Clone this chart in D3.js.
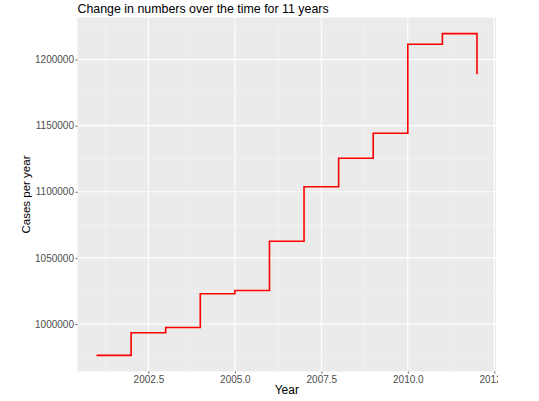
<!DOCTYPE html>
<html lang="en">
<head>
<meta charset="UTF-8">
<title>Change in numbers over the time for 11 years</title>
<script src="https://cdn.jsdelivr.net/npm/d3@7"></script>
<style>
  body { margin: 0; background: #fff; }
  text { font-family: "Liberation Sans", Arial, sans-serif; }
</style>
</head>
<body>
<script>
// data
var years = [2001, 2002, 2003, 2004, 2005, 2006, 2007, 2008, 2009, 2010, 2011, 2012];
var cases = [976300, 993400, 997400, 1022900, 1025400, 1062600,
             1103800, 1125400, 1144200, 1211500, 1219600, 1188900];
var xTicks = [2002.5, 2005.0, 2007.5, 2010.0, 2012.5];
var yTicks = [1000000, 1050000, 1100000, 1150000, 1200000];

var width = 539, height = 401;
var margin = {top: 17.5, right: 43, bottom: 29.5, left: 77.5};

var svg = d3.select("body").append("svg")
    .attr("width", width)
    .attr("height", height);

var pw = width - margin.left - margin.right,
    ph = height - margin.top - margin.bottom;

// ggplot style 5% expansion
var xr = d3.extent(years), yr = d3.extent(cases);
var xp = (xr[1] - xr[0]) * 0.05, yp = (yr[1] - yr[0]) * 0.05;

var x = d3.scaleLinear().domain([xr[0] - xp, xr[1] + xp]).range([0, pw]);
var y = d3.scaleLinear().domain([yr[0] - yp, yr[1] + yp]).range([ph, 0]);

svg.append("clipPath").attr("id", "page")
  .append("rect").attr("x", 0).attr("y", 0).attr("width", 498).attr("height", height);

var g = svg.append("g")
    .attr("transform", "translate(" + margin.left + "," + margin.top + ")");

g.append("rect")
    .attr("width", pw)
    .attr("height", ph)
    .attr("fill", "#ebebeb");

// minor grid
var xMinor = xTicks.map(function (d) { return d - 1.25; });
var yMinor = yTicks.map(function (d) { return d - 25000; }).concat([1225000]);

g.selectAll(".xminor").data(xMinor).enter().append("line")
    .attr("x1", function (d) { return x(d); })
    .attr("x2", function (d) { return x(d); })
    .attr("y1", 0).attr("y2", ph)
    .attr("stroke", "#f5f5f5").attr("stroke-width", 0.6);

g.selectAll(".yminor").data(yMinor).enter().append("line")
    .attr("y1", function (d) { return y(d); })
    .attr("y2", function (d) { return y(d); })
    .attr("x1", 0).attr("x2", pw)
    .attr("stroke", "#f5f5f5").attr("stroke-width", 0.6);

// major grid
g.selectAll(".xmajor").data(xTicks).enter().append("line")
    .attr("x1", function (d) { return x(d); })
    .attr("x2", function (d) { return x(d); })
    .attr("y1", 0).attr("y2", ph)
    .attr("stroke", "#ffffff").attr("stroke-width", 1.1);

g.selectAll(".ymajor").data(yTicks).enter().append("line")
    .attr("y1", function (d) { return y(d); })
    .attr("y2", function (d) { return y(d); })
    .attr("x1", 0).attr("x2", pw)
    .attr("stroke", "#ffffff").attr("stroke-width", 1.1);

// step line
var points = years.map(function (d, i) { return [d, cases[i]]; });
var lineFunction = d3.line()
    .x(function (d) { return x(d[0]); })
    .y(function (d) { return y(d[1]); })
    .curve(d3.curveStepAfter);

g.append("path")
    .attr("d", lineFunction(points))
    .attr("fill", "none")
    .attr("stroke", "#ff0000")
    .attr("stroke-width", 1.6);

// axes
var axisBottom = d3.axisBottom(x)
    .tickValues(xTicks)
    .tickFormat(d3.format(".1f"))
    .tickSize(2)
    .tickPadding(2);

var axisLeft = d3.axisLeft(y)
    .tickValues(yTicks)
    .tickFormat(d3.format("d"))
    .tickSize(2)
    .tickPadding(1.5);

var gx = svg.append("g")
    .attr("clip-path", "url(#page)")
    .append("g")
    .attr("transform", "translate(" + margin.left + "," + (margin.top + ph) + ")")
    .call(axisBottom);

var gy = svg.append("g")
    .attr("transform", "translate(" + margin.left + "," + margin.top + ")")
    .call(axisLeft);

[gx, gy].forEach(function (a) {
    a.select(".domain").remove();
    a.selectAll(".tick line").attr("stroke", "#333333").attr("stroke-width", 0.8);
    a.selectAll(".tick text")
        .attr("fill", "#4d4d4d")
        .style("font-size", "10px")
        .style("font-family", "'Liberation Sans', Arial, sans-serif");
});

// titles
svg.append("text")
    .attr("x", margin.left)
    .attr("y", 13)
    .attr("fill", "#000")
    .style("font-size", "12.4px")
    .text("Change in numbers over the time for 11 years");

svg.append("text")
    .attr("x", margin.left + pw / 2)
    .attr("y", 394)
    .attr("text-anchor", "middle")
    .attr("fill", "#000")
    .style("font-size", "12px")
    .text("Year");

svg.append("text")
    .attr("transform", "translate(29.5," + (margin.top + ph / 2) + ") rotate(-90)")
    .attr("text-anchor", "middle")
    .attr("fill", "#000")
    .style("font-size", "11.5px")
    .text("Cases per year");
</script>
</body>
</html>
